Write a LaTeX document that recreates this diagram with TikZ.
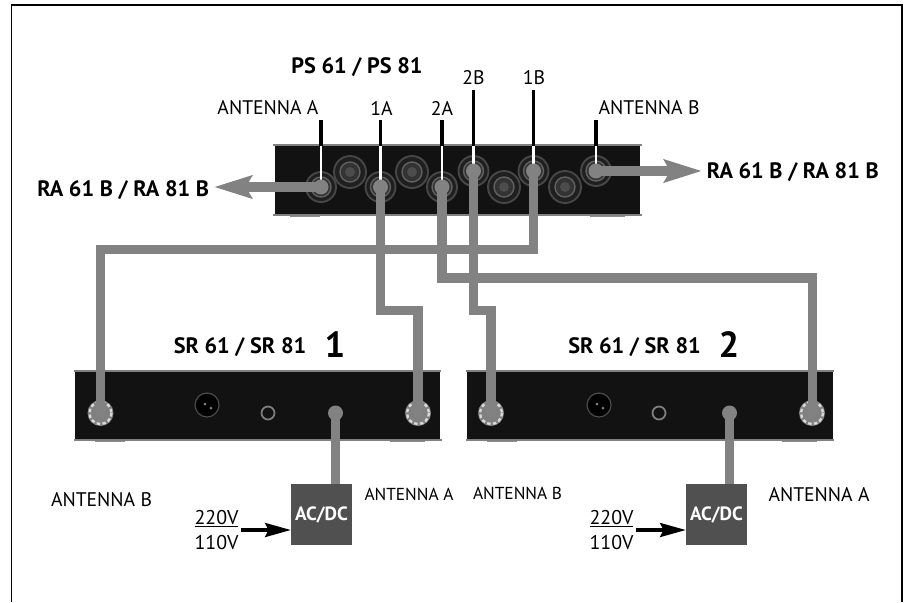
\documentclass[tikz,border=0pt]{standalone}
\usepackage{fontspec}
\setmainfont{PT Sans}
\usetikzlibrary{arrows.meta,calc}
\definecolor{cablegray}{HTML}{828282}
\definecolor{boxblack}{HTML}{121212}
\definecolor{acdcgray}{HTML}{505050}
\begin{document}
\begin{tikzpicture}[x=0.03cm, y=-0.03cm,
    unitbox/.style={fill=boxblack, inner sep=0pt, minimum height=58.5pt},
    antlabel/.style={font=\fontsize{16.8}{18}\selectfont, inner sep=0pt},
    smalllabel/.style={font=\fontsize{14.8}{16}\selectfont, inner sep=0pt},
    titlelabel/.style={font=\fontsize{19}{20}\selectfont\bfseries, inner sep=0pt},
    bignum/.style={font=\fontsize{31}{32}\selectfont\bfseries, inner sep=0pt},
    voltlabel/.style={font=\fontsize{17}{21}\selectfont, align=center, inner sep=2pt},
    acdcbox/.style={fill=acdcgray, text=white, minimum size=52pt, inner sep=0pt,
        font=\fontsize{16.4}{18}\selectfont\bfseries},
    cable/.style={cablegray, line width=7.7pt},
    cablearrow/.style={cablegray, line width=7.7pt,
        -{Stealth[length=32pt, width=19pt, inset=5pt]}},
    stubblack/.style={black, line width=2.6pt},
    stubwhite/.style={white, line width=2pt},
    mains/.style={black, line width=2.6pt, -{Stealth[length=22pt, width=12pt, inset=3pt]}},
    ringa/.style={draw=black!72, line width=1.6pt, fill=black!88},
    ringb/.style={draw=black!62, line width=1.2pt, fill=black!80},
    ringc/.style={fill=black!50},
    ringd/.style={draw=black!15, line width=2pt, dash pattern=on 3pt off 2pt},
    ball/.style={fill=cablegray},
    feet/.style={black!45, line width=1.6pt},
    boxedge/.style={black!50, line width=1.2pt}
]
    \useasboundingbox (0,0) rectangle (904,602);

    % Frame
    \draw[black, line width=1.5pt] (11.5,602) -- (11.5,5) -- (902,5) -- (902,602);

    % Splitter and receivers
    \draw[feet] (290,216) -- (320,216) (590,216) -- (625,216);
    \draw[feet] (95,441) -- (125,441) (390,441) -- (425,441);
    \draw[feet] (487,441) -- (517,441) (782,441) -- (817,441);
    \node[unitbox, minimum width=311pt] (ps) at (457.5,180) {};
    \node[unitbox, minimum width=311pt] (sra) at (257.5,405.5) {};
    \node[unitbox, minimum width=312pt] (srb) at (650,405.5) {};
    \draw[boxedge] (273,145) -- (642,145) (273,215) -- (642,215);
    \draw[boxedge] (74,371) -- (441,371) (74,440) -- (442,440);
    \draw[boxedge] (466,371) -- (834,371) (466,440) -- (834,440);

    % Connectors on the splitter
    \coordinate (pAntA) at (321,187);
    \coordinate (pOneA) at (380.5,187);
    \coordinate (pTwoA) at (442,187);
    \coordinate (pTwoB) at (473.5,171);
    \coordinate (pOneB) at (533.5,171);
    \coordinate (pAntB) at (596,171);
    \coordinate (pDumA) at (350,172);
    \coordinate (pDumB) at (412,172);
    \coordinate (pDumC) at (504,187);
    \coordinate (pDumD) at (565,187);
    \draw[ringa] (pDumA) circle (16); \draw[ringb] (pDumA) circle (10); \fill[black!70] (pDumA) circle (5);
    \draw[ringa] (pDumB) circle (16); \draw[ringb] (pDumB) circle (10); \fill[black!70] (pDumB) circle (5);
    \draw[ringa] (pDumC) circle (16); \draw[ringb] (pDumC) circle (10); \fill[black!70] (pDumC) circle (5);
    \draw[ringa] (pDumD) circle (16); \draw[ringb] (pDumD) circle (10); \fill[black!70] (pDumD) circle (5);
    \draw[ringa] (pAntA) circle (15); \draw[ringb] (pAntA) circle (10);
    \draw[ringa] (pOneA) circle (15); \draw[ringb] (pOneA) circle (10);
    \draw[ringa] (pTwoA) circle (15); \draw[ringb] (pTwoA) circle (10);
    \draw[ringa] (pTwoB) circle (15); \draw[ringb] (pTwoB) circle (10);
    \draw[ringa] (pOneB) circle (15); \draw[ringb] (pOneB) circle (10);
    \draw[ringa] (pAntB) circle (15); \draw[ringb] (pAntB) circle (10);

    % Connectors on the receivers
    \coordinate (rOneB) at (100.5,413);
    \coordinate (rOneA) at (418,413);
    \coordinate (rOneDc) at (335.5,413);
    \coordinate (rTwoB) at (491,413);
    \coordinate (rTwoA) at (812,413);
    \coordinate (rTwoDc) at (729.5,413);
    \fill[ringc] (rOneB) circle (13); \draw[ringd] (rOneB) circle (11);
    \fill[ringc] (rOneA) circle (13); \draw[ringd] (rOneA) circle (11);
    \fill[ringc] (rTwoB) circle (13); \draw[ringd] (rTwoB) circle (11);
    \fill[ringc] (rTwoA) circle (13); \draw[ringd] (rTwoA) circle (11);
    \draw[draw=black!70, line width=1pt, fill=black] (207,405) circle (12);
    \draw[draw=black!70, line width=1pt, fill=black] (599,405) circle (12);
    \fill[black!50] (205,404) circle (1.5) (211,408) circle (1.5);
    \fill[black!50] (597,404) circle (1.5) (603,408) circle (1.5);
    \draw[black!50, line width=1.5pt] (268,413) circle (6.5);
    \draw[black!50, line width=1.5pt] (659,413) circle (6.5);

    % Labels with their stubs
    \node[titlelabel] (psname) at (357,67) {PS 61 / PS 81};
    \node[antlabel] (lAntA) at (268,108) {ANTENNA A};
    \node[antlabel] (lOneA) at (381.5,108) {1A};
    \node[antlabel] (lTwoA) at (442,108) {2A};
    \node[antlabel] (lTwoB) at (473.5,78) {2B};
    \node[antlabel] (lOneB) at (534,78) {1B};
    \node[antlabel] (lAntB) at (649,108) {ANTENNA B};
    \coordinate (sAntA) at (321,120);
    \coordinate (sOneA) at (380.5,120);
    \coordinate (sTwoA) at (442,120);
    \coordinate (sTwoB) at (473.5,90);
    \coordinate (sOneB) at (533.5,90);
    \coordinate (sAntB) at (596,120);
    \draw[stubblack] (sAntA) -- (sAntA |- ps.north);
    \draw[stubblack] (sOneA) -- (sOneA |- ps.north);
    \draw[stubblack] (sTwoA) -- (sTwoA |- ps.north);
    \draw[stubblack] (sTwoB) -- (sTwoB |- ps.north);
    \draw[stubblack] (sOneB) -- (sOneB |- ps.north);
    \draw[stubblack] (sAntB) -- (sAntB |- ps.north);
    \draw[stubwhite] (sAntA |- ps.north) -- (pAntA);
    \draw[stubwhite] (sOneA |- ps.north) -- (pOneA);
    \draw[stubwhite] (sTwoA |- ps.north) -- (pTwoA);
    \draw[stubwhite] (sTwoB |- ps.north) -- (pTwoB);
    \draw[stubwhite] (sOneB |- ps.north) -- (pOneB);
    \draw[stubwhite] (sAntB |- ps.north) -- (pAntB);

    % Cables
    \coordinate (cOneB) at (300,249.5);
    \coordinate (cOneA) at (400,310);
    \coordinate (cTwoA) at (600,278);
    \coordinate (cTwoB) at (480,310);
    \draw[cable] (pOneB) |- (cOneB) -| (rOneB);
    \draw[cable] (pOneA) |- (cOneA) -| (rOneA);
    \draw[cable] (pTwoA) |- (cTwoA) -| (rTwoA);
    \draw[cable] (pTwoB) |- (cTwoB) -| (rTwoB);
    \fill[ball] (pOneB) circle (7.5) (pOneA) circle (7.5);
    \fill[ball] (pTwoA) circle (7.5) (pTwoB) circle (7.5);
    \fill[ball] (pAntA) circle (7.5) (pAntB) circle (7.5);
    \fill[ball] (rOneB) circle (5.5) (rOneA) circle (5.5);
    \fill[ball] (rTwoB) circle (5.5) (rTwoA) circle (5.5);
    \fill[ball] (rOneDc) circle (7.5) (rTwoDc) circle (7.5);

    % Outputs to the antennas
    \node[titlelabel, anchor=east, inner sep=4pt] (raleft) at (214,190) {RA 61 B / RA 81 B};
    \node[titlelabel, anchor=west, inner sep=4pt] (raright) at (702,172) {RA 61 B / RA 81 B};
    \draw[cablearrow] (pAntA) -- (pAntA -| raleft.east);
    \draw[cablearrow] (pAntB) -- (pAntB -| raright.west);

    % Receiver names
    \node[titlelabel] (srone) at (240,347) {SR 61 / SR 81};
    \node[bignum] (numone) at (335,345) {1};
    \node[titlelabel] (srtwo) at (634.5,347) {SR 61 / SR 81};
    \node[bignum] (numtwo) at (729,345) {2};

    % Power supplies
    \node[acdcbox] (acdcone) at (321.5,514.5) {AC/DC};
    \node[acdcbox] (acdctwo) at (716.5,514.5) {AC/DC};
    \draw[cable] (rOneDc) -- (rOneDc |- acdcone.north);
    \draw[cable] (rTwoDc) -- (rTwoDc |- acdctwo.north);
    \node[voltlabel, anchor=east] (voltone) at (241,530) {\underline{220V}\\110V};
    \node[voltlabel, anchor=east] (volttwo) at (636,530) {\underline{220V}\\110V};
    \draw[mains] (voltone.east) -- (voltone.east -| acdcone.west);
    \draw[mains] (volttwo.east) -- (volttwo.east -| acdctwo.west);

    % Antenna labels below the receivers
    \node[antlabel] (belowa) at (101.5,500) {ANTENNA B};
    \node[smalllabel] (belowb) at (409,494) {ANTENNA A};
    \node[smalllabel] (belowc) at (517.5,493) {ANTENNA B};
    \node[antlabel] (belowd) at (819,495) {ANTENNA A};
\end{tikzpicture}
\end{document}
